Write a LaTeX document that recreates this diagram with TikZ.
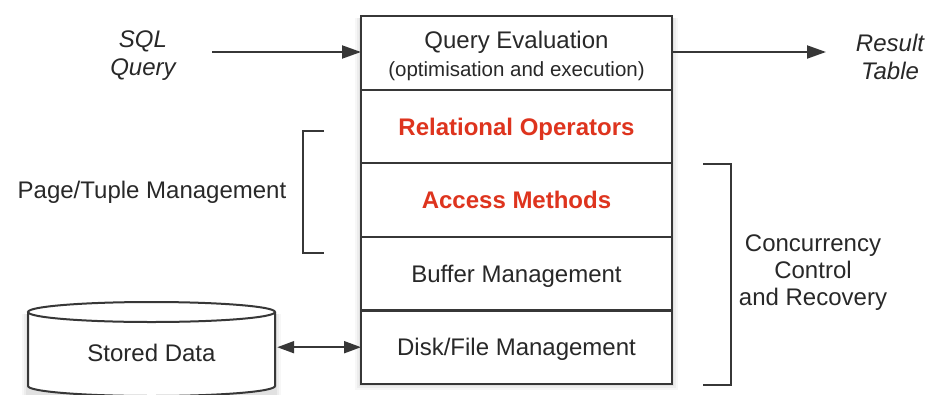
\documentclass[tikz,border=0pt]{standalone}
\usepackage{fontspec}
\setmainfont{Liberation Sans}
\usetikzlibrary{arrows.meta}
\definecolor{ln}{RGB}{55,55,55}
\definecolor{tx}{RGB}{40,40,40}
\definecolor{hl}{RGB}{222,52,30}
\tikzset{
  layer/.style={draw=ln, line width=2.2pt, fill=white, minimum width=311pt, minimum height=73.6pt,
    inner sep=0pt, outer sep=0pt, align=center, text=tx, font=\fontsize{24}{28}\selectfont,
    text height=17.2pt, text depth=0pt},
  redlayer/.style={layer, text=hl, font=\fontsize{24}{28}\selectfont\bfseries},
  lbl/.style={text=tx, align=center, inner sep=0pt, font=\fontsize{24}{27}\selectfont},
  ilbl/.style={lbl, font=\fontsize{24}{28}\selectfont\itshape},
  conn/.style={draw=ln, line width=2pt, -{Triangle[length=19pt,width=13pt]}},
  biconn/.style={draw=ln, line width=2pt, {Triangle[length=17pt,width=12pt]}-{Triangle[length=17pt,width=12pt]}},
  brk/.style={draw=ln, line width=2pt}
}
\begin{document}
\begin{tikzpicture}[x=1pt,y=-1pt]
\useasboundingbox (0,0) rectangle (931,394);
% soft shadow behind stack
\foreach \s/\o in {6/0.03,4/0.04,2/0.05}{
  \fill[black, opacity=\o] (361-\s,16+2) rectangle (672+\s,384+\s);
}
% stack
\node[layer, anchor=north west] (r1) at (361,16) {};
\node[lbl, anchor=center] (r1t) at ([yshift=-3pt]r1.center) {Query Evaluation\\[1pt]{\fontsize{20.5}{24}\selectfont(optimisation and execution)}};
\node[redlayer, anchor=north] (r2) at (r1.south) {Relational Operators};
\node[redlayer, anchor=north] (r3) at (r2.south) {Access Methods};
\node[layer, anchor=north] (r4) at (r3.south) {Buffer Management};
\node[layer, anchor=north] (r5) at (r4.south) {Disk/File Management};
% inputs / outputs
\node[ilbl] (sql) at (143,56) {SQL\\Query};
\node[ilbl] (res) at (890,57) {Result\\Table};
\coordinate (sqlend) at (212,52);
\coordinate (resend) at (826,52);
\draw[conn] (sqlend) -- (sqlend -| r1.west);
\draw[conn] (r1.east |- resend) -- (resend);
% cylinder
\foreach \s/\o in {6/0.03,4/0.04,2/0.05}{
  \fill[black, opacity=\o] (28-\s,314) rectangle (275+\s,400);
}
\filldraw[draw=ln, line width=2pt, fill=white] (28,312) -- (28,386) arc[start angle=180, end angle=360, x radius=123.5, y radius=-10] -- (275,312);
\filldraw[draw=ln, line width=2pt, fill=white] (151.5,312) ellipse[x radius=123.5, y radius=10];
\node[lbl, minimum width=247pt, minimum height=74pt] (db) at (151.5,353) {Stored Data};
\draw[biconn] (db.east |- r5.west) ++(2,0) coordinate (dbe) -- (r5.west);
% brackets
\coordinate (lb1) at (324,131);
\coordinate (lb2) at (324,253);
\draw[brk] (lb1) -- ++(-21,0) |- (lb2);
\node[lbl] (ptm) at (152,192) {Page/Tuple Management};
\coordinate (rb1) at (703,164);
\coordinate (rb2) at (703,385);
\draw[brk] (rb1) -- ++(28,0) |- (rb2);
\node[lbl] (ccr) at (813,273) {Concurrency\\Control\\and Recovery};
\end{tikzpicture}
\end{document}
